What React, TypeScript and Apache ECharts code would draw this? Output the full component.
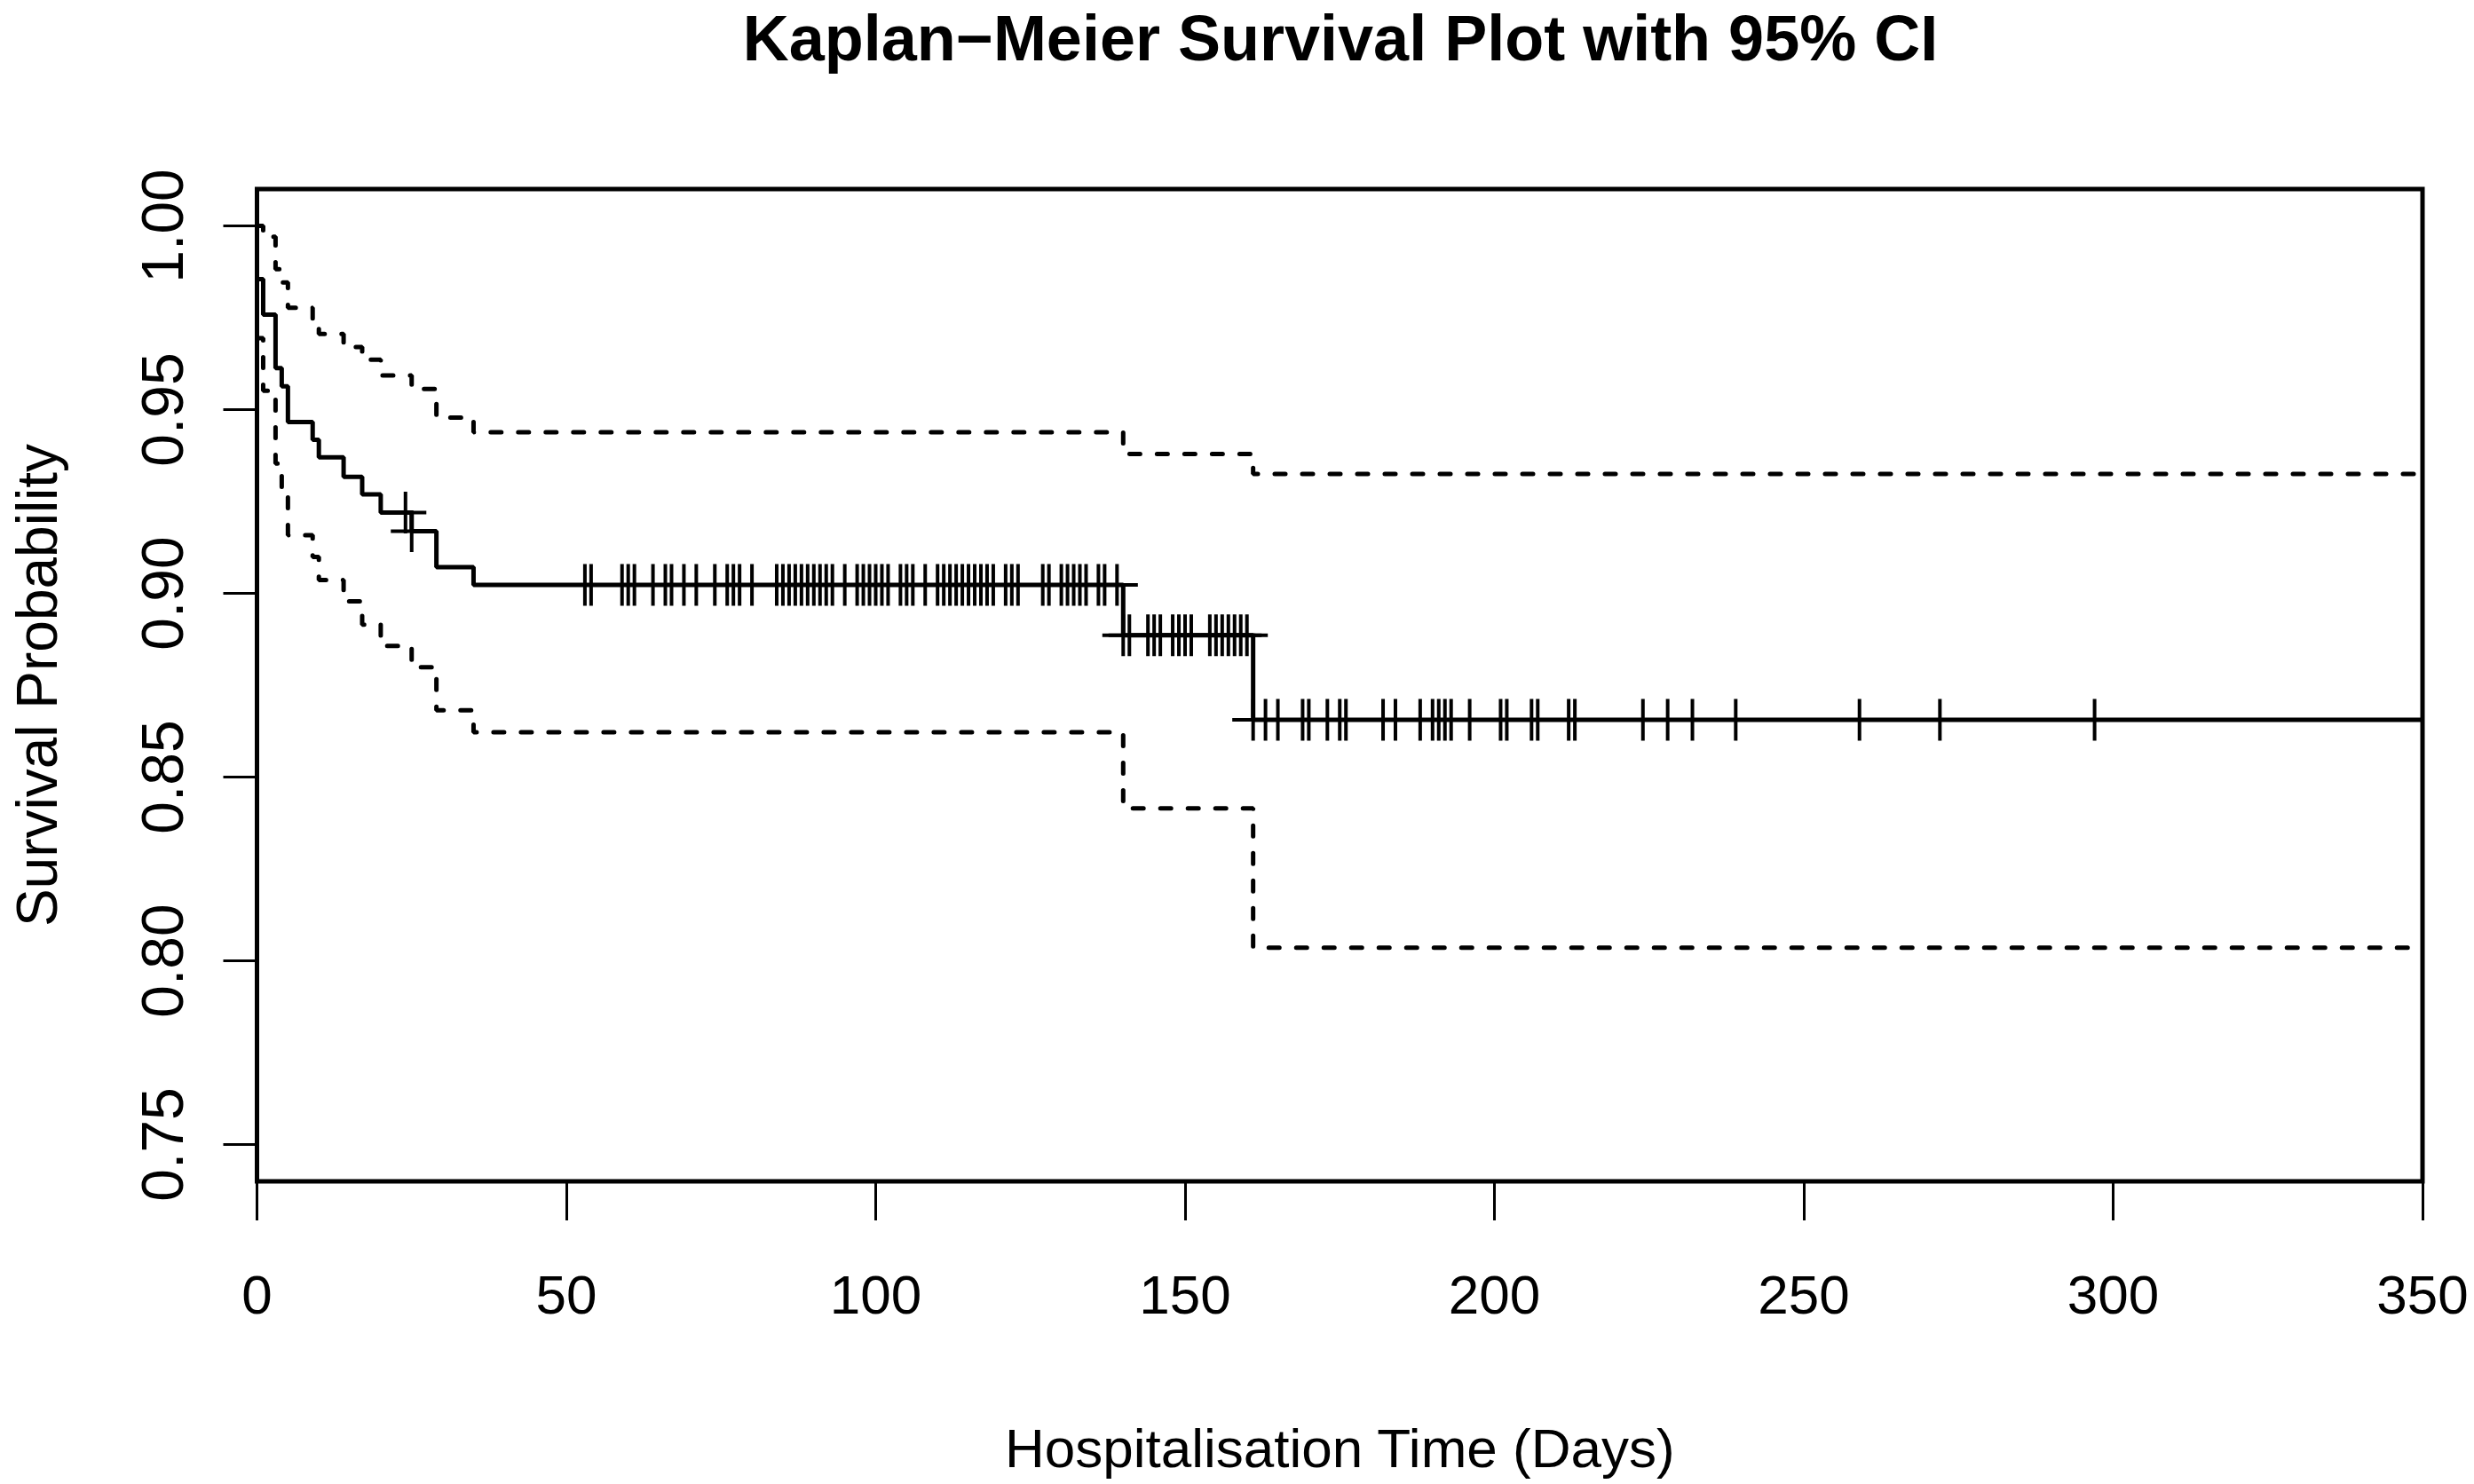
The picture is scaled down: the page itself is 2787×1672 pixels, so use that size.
import React, { useEffect, useRef } from "react";
import * as echarts from "echarts";

// ---- data ----
const kmTimes = [0, 0, 1, 3, 4, 5, 9, 10, 14, 17, 20, 25, 29, 35, 140, 161];
const kmSurv = [1, 0.9855, 0.9758, 0.9613, 0.9563, 0.9466, 0.9418, 0.937, 0.9317, 0.9269, 0.922, 0.9169, 0.9071, 0.9023, 0.8886, 0.8656];
const ciUpper = [1, 1, 0.997, 0.9882, 0.9846, 0.9777, 0.9745, 0.9706, 0.967, 0.9636, 0.9593, 0.9556, 0.9478, 0.9438, 0.9379, 0.9325];
const ciLower = [1, 0.9694, 0.9551, 0.9353, 0.9288, 0.9158, 0.9099, 0.9036, 0.8978, 0.8915, 0.8857, 0.8799, 0.8682, 0.8622, 0.8415, 0.8036];
const censorTimes = [
  24, 25, 53, 54, 59, 60, 61, 64, 66, 67, 69, 71, 74, 76, 77, 78, 80, 84, 85, 86, 87, 88, 89, 90, 91, 92, 93, 95,
  97, 98, 99, 100, 101, 102, 104, 105, 106, 108, 110, 111, 112, 113, 114, 115, 116, 117, 118, 119, 121, 122, 123,
  127, 128, 130, 131, 132, 133, 134, 136, 137, 139, 140, 141, 144, 145, 146, 148, 149, 150, 151, 154, 155, 156,
  157, 158, 159, 160, 161, 163, 165, 169, 170, 173, 175, 176, 182, 184, 188, 190, 191, 192, 193, 196, 201, 202,
  206, 207, 212, 213, 224, 228, 232, 239, 259, 272, 297,
];
const xTicks = [0, 50, 100, 150, 200, 250, 300, 350];
const yTicks = [0.75, 0.8, 0.85, 0.9, 0.95, 1.0];
const yRange = [0.74, 1.01];

const TITLE = "Kaplan\u2212Meier Survival Plot with 95% CI";
const X_NAME = "Hospitalisation Time (Days)";
const Y_NAME = "Survival Probability";
const FONT = '"Liberation Sans", Arial, Helvetica, sans-serif';

const W = 2787;
const H = 1672;

function stepData(vals: number[]) {
  const pts = kmTimes.map((t, i) => [t, vals[i]]);
  pts.push([xTicks[xTicks.length - 1], vals[vals.length - 1]]);
  return pts;
}

function survAt(t: number) {
  let v = kmSurv[0];
  for (let i = 0; i < kmTimes.length; i++) if (kmTimes[i] <= t) v = kmSurv[i];
  return v;
}

export default function App() {
  const ref = useRef<HTMLDivElement>(null);
  useEffect(() => {
    if (!ref.current) return;
    const chart = echarts.init(ref.current, null, { renderer: "svg", width: W, height: H });
    const ciStyle = { color: "#000", width: 5, type: [12, 19] as any, cap: "round" as any };
    chart.setOption({
      animation: false,
      backgroundColor: "#fff",
      textStyle: { fontFamily: FONT, color: "#000" },
      graphic: [
        {
          type: "text",
          x: 1510,
          y: 43,
          style: {
            text: TITLE,
            fill: "#000",
            fontSize: 72,
            fontWeight: "bold",
            fontFamily: FONT,
            align: "center",
            verticalAlign: "middle",
            textAlign: "center",
            textVerticalAlign: "middle",
          },
        },
      ],
      grid: {
        left: 289.5,
        right: 58,
        top: 213,
        bottom: 341,
        show: true,
        borderColor: "#000",
        borderWidth: 5,
        backgroundColor: "transparent",
        containLabel: false,
        outerBoundsMode: "none",
      },
      xAxis: {
        type: "value",
        min: xTicks[0],
        max: xTicks[xTicks.length - 1],
        interval: xTicks[1] - xTicks[0],
        axisLine: { show: false },
        splitLine: { show: false },
        axisTick: { show: true, length: 44, lineStyle: { color: "#000", width: 3 } },
        axisLabel: {
          margin: 96,
          fontSize: 62,
          color: "#000",
          fontFamily: FONT,
          showMinLabel: true,
          showMaxLabel: true,
        },
        name: X_NAME,
        nameLocation: "middle",
        nameGap: 269,
        nameTextStyle: { fontSize: 62, color: "#000", fontFamily: FONT },
      },
      yAxis: {
        type: "value",
        min: yRange[0],
        max: yRange[1],
        axisLine: { show: false },
        splitLine: { show: false },
        axisTick: {
          show: true,
          customValues: yTicks,
          length: 38,
          lineStyle: { color: "#000", width: 3 },
        },
        axisLabel: {
          customValues: yTicks,
          rotate: 90,
          margin: 74,
          fontSize: 66,
          color: "#000",
          fontFamily: FONT,
          formatter: (v: number) => v.toFixed(2),
        },
        name: Y_NAME,
        nameLocation: "middle",
        nameGap: 216,
        nameTextStyle: { fontSize: 64, lineHeight: 64, color: "#000", fontFamily: FONT },
      },
      series: [
        {
          name: "Upper 95% CI",
          type: "line",
          step: "end",
          showSymbol: false,
          data: stepData(ciUpper),
          lineStyle: ciStyle,
          z: 2,
        },
        {
          name: "Lower 95% CI",
          type: "line",
          step: "end",
          showSymbol: false,
          data: stepData(ciLower),
          lineStyle: ciStyle,
          z: 2,
        },
        {
          name: "Survival",
          type: "line",
          step: "end",
          showSymbol: false,
          data: stepData(kmSurv),
          lineStyle: { color: "#000", width: 5 },
          z: 3,
        },
        {
          name: "Censored",
          type: "scatter",
          symbol: "path://M0,5L10,5M5,0L5,10",
          symbolSize: 47,
          data: censorTimes.map((t) => [t, survAt(t)]),
          itemStyle: { color: "rgba(0,0,0,0)", borderColor: "#000", borderWidth: 4, opacity: 1 },
          z: 4,
        },
      ],
    });
    return () => chart.dispose();
  }, []);
  return (
    <div
      ref={ref}
      style={{ position: "fixed", left: 0, top: 0, width: W, height: H, background: "#fff" }}
    />
  );
}
